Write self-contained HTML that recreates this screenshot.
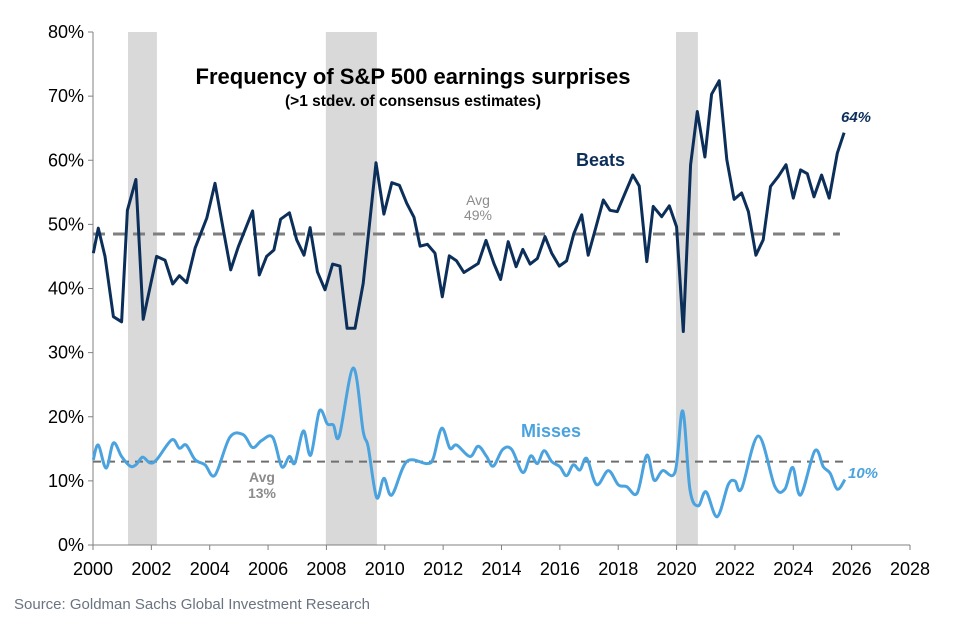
<!DOCTYPE html>
<html><head><meta charset="utf-8"><style>
html,body{margin:0;padding:0;background:#fff;}
svg{display:block;font-family:"Liberation Sans",Arial,sans-serif;}
</style></head><body>
<svg id="chart" width="955" height="618" viewBox="0 0 955 618"></svg>
<script>
const yearTicks=[2000,2002,2004,2006,2008,2010,2012,2014,2016,2018,2020,2022,2024,2026,2028];
const pctTicks=[0,10,20,30,40,50,60,70,80];
const recessionStarts=[2001.2,2007.98,2019.98];
const recessionEnds=[2002.19,2009.73,2020.73];
const beatsYears=[2000.01,2000.18,2000.41,2000.70,2000.98,2001.18,2001.47,2001.72,2002.18,2002.47,2002.73,2002.96,2003.21,2003.50,2003.90,2004.18,2004.47,2004.72,2004.98,2005.47,2005.70,2005.95,2006.20,2006.43,2006.73,2006.98,2007.23,2007.44,2007.69,2007.95,2008.21,2008.46,2008.71,2008.98,2009.26,2009.70,2009.97,2010.24,2010.50,2010.75,2011.00,2011.21,2011.46,2011.72,2011.97,2012.21,2012.46,2012.71,2013.20,2013.47,2013.74,2013.97,2014.23,2014.50,2014.73,2014.98,2015.23,2015.49,2015.72,2015.98,2016.23,2016.48,2016.75,2016.97,2017.24,2017.49,2017.72,2017.97,2018.23,2018.50,2018.72,2018.98,2019.20,2019.49,2019.75,2020.00,2020.23,2020.48,2020.71,2020.97,2021.20,2021.46,2021.72,2021.97,2022.23,2022.46,2022.72,2022.97,2023.22,2023.49,2023.75,2024.00,2024.25,2024.48,2024.71,2024.97,2025.23,2025.51,2025.74];
const beatsValues=[45.5,49.4,45.0,35.6,34.8,52.2,57.0,35.2,45.0,44.4,40.7,42.0,40.9,46.3,51.0,56.4,49.1,42.9,46.5,52.1,42.1,45.0,46.0,50.8,51.8,47.6,45.2,49.5,42.6,39.8,43.8,43.5,33.8,33.8,40.8,59.6,51.6,56.5,56.1,53.3,51.1,46.6,46.9,45.5,38.7,45.1,44.3,42.5,43.9,47.5,43.9,41.4,47.3,43.4,46.1,43.8,44.7,48.1,45.5,43.5,44.3,48.6,51.5,45.2,49.6,53.8,52.2,52.0,54.8,57.7,56.0,44.2,52.8,51.2,52.9,49.6,33.3,59.3,67.6,60.5,70.3,72.4,60.1,53.9,54.9,52.0,45.2,47.6,55.9,57.5,59.3,54.1,58.5,57.9,54.3,57.7,54.1,61.1,64.3];
const missYears=[2000.01,2000.18,2000.45,2000.70,2000.98,2001.27,2001.47,2001.70,2001.95,2002.18,2002.70,2002.96,2003.19,2003.50,2003.84,2004.18,2004.69,2005.15,2005.47,2005.78,2006.16,2006.47,2006.73,2006.92,2007.21,2007.46,2007.76,2008.03,2008.24,2008.44,2008.92,2009.26,2009.43,2009.72,2009.97,2010.24,2010.75,2011.44,2011.66,2011.95,2012.23,2012.46,2012.92,2013.20,2013.49,2013.72,2014.04,2014.35,2014.73,2015.00,2015.23,2015.46,2015.72,2016.00,2016.23,2016.46,2016.69,2016.92,2017.26,2017.66,2018.00,2018.29,2018.65,2018.98,2019.23,2019.52,2019.95,2020.21,2020.46,2020.74,2021.01,2021.39,2021.77,2022.00,2022.23,2022.80,2023.37,2023.71,2023.98,2024.25,2024.74,2025.03,2025.26,2025.51,2025.77];
const missValues=[13.3,15.6,12.0,15.9,13.8,12.3,12.5,13.7,12.8,13.3,16.4,15.1,15.6,13.3,12.5,10.9,16.8,17.2,15.2,16.3,16.8,12.2,13.8,12.8,17.8,14.0,20.9,18.9,18.7,17.0,27.6,17.7,15.3,7.4,10.4,7.8,13.0,12.7,13.5,18.2,15.1,15.6,13.8,15.4,13.8,12.3,14.9,14.9,11.3,13.9,12.7,14.7,13.0,12.2,10.8,12.5,11.7,13.5,9.4,11.6,9.4,9.1,8.1,14.0,10.1,11.6,11.4,20.9,8.6,6.1,8.3,4.4,9.4,10.0,8.8,17.0,9.1,8.7,12.1,7.8,14.7,12.2,11.2,8.7,10.2];
const beatsAvg=48.5, missAvg=13;

const svg=document.getElementById('chart');
const NS='http://www.w3.org/2000/svg';
const X0=93,X1=910,Y0=545,Y1=32;
function xs(v){return X0+(v-2000)/(2028-2000)*(X1-X0);}
function ys(v){return Y0-(v/80)*(Y0-Y1);}
function mk(tag,attrs,parent){const e=document.createElementNS(NS,tag);for(const k in attrs)e.setAttribute(k,attrs[k]);(parent||svg).appendChild(e);return e;}

for(let i=0;i<recessionStarts.length;i++){
  const r=mk('rect',{x:xs(recessionStarts[i]),y:Y1,width:xs(recessionEnds[i])-xs(recessionStarts[i]),height:Y0-Y1,fill:'#d9d9d9'});
  
  
}
let ax=mk('line',{x1:X0,y1:Y1,x2:X0,y2:Y0,stroke:'#808080','stroke-width':1});


ax=mk('line',{x1:X0,y1:Y0,x2:X1,y2:Y0,stroke:'#808080','stroke-width':1});


pctTicks.forEach(p=>{
  mk('line',{x1:X0-5,y1:ys(p),x2:X0,y2:ys(p),stroke:'#808080'});
  const t=mk('text',{x:X0-9,y:ys(p)+6,'text-anchor':'end','font-size':18,fill:'#000'});
  t.textContent=p+'%';
  
  
});
yearTicks.forEach(y=>{
  mk('line',{x1:xs(y),y1:Y0,x2:xs(y),y2:Y0+5,stroke:'#808080'});
  const t=mk('text',{x:xs(y),y:Y0+30,'text-anchor':'middle','font-size':18,fill:'#000'});
  t.textContent=y;
  
  
});
let a=mk('line',{x1:X0,y1:ys(beatsAvg),x2:xs(2025.6),y2:ys(beatsAvg),stroke:'#7f7f7f','stroke-width':3,'stroke-dasharray':'12,8'});


a=mk('line',{x1:X0,y1:ys(missAvg),x2:xs(2025.8),y2:ys(missAvg),stroke:'#6f6f6f','stroke-width':2,'stroke-dasharray':'8,6'});



function linePath(xa,ya){return xa.map((x,i)=>(i?'L':'M')+xs(x).toFixed(1)+','+ys(ya[i]).toFixed(1)).join('');}
function smoothPath(xa,ya){
  const p=xa.map((x,i)=>[xs(x),ys(ya[i])]);
  let d='M'+p[0][0]+','+p[0][1];
  for(let i=0;i<p.length-1;i++){
    const p0=p[Math.max(0,i-1)],p1=p[i],p2=p[i+1],p3=p[Math.min(p.length-1,i+2)];
    const c1=[p1[0]+(p2[0]-p0[0])/6,p1[1]+(p2[1]-p0[1])/6];
    const c2=[p2[0]-(p3[0]-p1[0])/6,p2[1]-(p3[1]-p1[1])/6];
    d+='C'+c1[0].toFixed(1)+','+c1[1].toFixed(1)+' '+c2[0].toFixed(1)+','+c2[1].toFixed(1)+' '+p2[0].toFixed(1)+','+p2[1].toFixed(1);
  }
  return d;
}
let s=mk('path',{d:linePath(beatsYears,beatsValues),fill:'none',stroke:'#0c2f5a','stroke-width':3,'stroke-linejoin':'round'});


s=mk('path',{d:smoothPath(missYears,missValues),fill:'none',stroke:'#4aa3df','stroke-width':3,'stroke-linejoin':'round'});


</script>
<svg width="955" height="618" style="position:absolute;left:0;top:0">
<text x="413" y="84" text-anchor="middle" font-size="22" font-weight="bold" fill="#000">Frequency of S&amp;P 500 earnings surprises</text>
<text x="413" y="106" text-anchor="middle" font-size="15.5" font-weight="bold" fill="#000">(&gt;1 stdev. of consensus estimates)</text>
<text x="576" y="166" font-size="18" font-weight="bold" fill="#0c2f5a">Beats</text>
<text x="521" y="437" font-size="18" font-weight="bold" fill="#4aa3df">Misses</text>
<text x="478" y="205" text-anchor="middle" font-size="14" fill="#8c8c8c">Avg</text>
<text x="478" y="220" text-anchor="middle" font-size="14" fill="#8c8c8c">49%</text>
<text x="262" y="482" text-anchor="middle" font-size="14" fill="#8c8c8c" font-weight="bold">Avg</text>
<text x="262" y="498" text-anchor="middle" font-size="14" fill="#8c8c8c" font-weight="bold">13%</text>
<text x="841" y="122" font-size="15" font-weight="bold" font-style="italic" fill="#0c2f5a">64%</text>
<text x="848" y="478" font-size="15" font-weight="bold" font-style="italic" fill="#4aa3df">10%</text>
<text x="14" y="609" font-size="15" fill="#6a7380">Source: Goldman Sachs Global Investment Research</text>
</svg>
</body></html>
